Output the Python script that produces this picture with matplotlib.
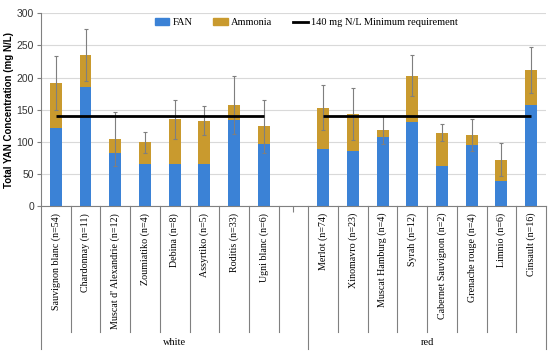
import numpy as np
import matplotlib
matplotlib.use("Agg")
import matplotlib.pyplot as plt
from matplotlib.patches import Patch
from matplotlib.lines import Line2D

# cultivars, white group first, one empty slot, then red
white = ["Sauvignon blanc (n=54)", "Chardonnay (n=11)", "Muscat d' Alexandrie (n=12)",
         "Zoumiatiko (n=4)", "Debina (n=8)", "Assyrtiko (n=5)", "Roditis (n=33)", "Ugni blanc (n=6)"]
red = ["Merlot (n=74)", "Xinomavro (n=23)", "Muscat Hamburg (n=4)", "Syrah (n=12)",
       "Cabernet Sauvignon (n=2)", "Grenache rouge (n=4)", "Limnio (n=6)", "Cinsault (n=16)"]
groups = ["white", "red"]

fan_white = [121, 186, 82, 65, 65, 65, 134, 96]
tot_white = [191, 235, 104, 99, 135, 133, 157, 124]
err_white = [42, 41, 42, 16, 30, 22, 45, 41]
fan_red = [89, 86, 108, 131, 62, 95, 39, 157]
tot_red = [153, 143, 118, 203, 114, 110, 72, 212]
err_red = [35, 41, 22, 32, 13, 25, 26, 36]
min_req = 140

labels = white + [""] + red
fan = np.array(fan_white + [np.nan] + fan_red, dtype=float)
tot = np.array(tot_white + [np.nan] + tot_red, dtype=float)
err = np.array(err_white + [np.nan] + err_red, dtype=float)
amm = tot - fan
x = np.arange(len(labels))

c_fan = "#3B82D6"
c_amm = "#C99A2E"
serif = "Liberation Serif"

fig = plt.figure(figsize=(5.5, 3.58), dpi=100)
ax = fig.add_axes([0.0745, 0.4246, 0.9182, 0.5382])

ax.bar(x, fan, width=0.4, color=c_fan, zorder=2)
ax.bar(x, amm, bottom=fan, width=0.4, color=c_amm, zorder=2)
ax.errorbar(x, tot, yerr=err, fmt="none", ecolor="#7f7f7f", elinewidth=0.8,
            capsize=1.5, capthick=0.8, zorder=3)
ax.hlines(min_req, 0, len(white) - 1, color="black", lw=2, zorder=4)
ax.hlines(min_req, len(white) + 1, len(labels) - 1, color="black", lw=2, zorder=4)

ax.set_xlim(-0.5, len(labels) - 0.5)
ax.set_ylim(0, 300)
ax.set_yticks(np.arange(0, 301, 50))
ax.yaxis.grid(True, color="#d9d9d9", lw=0.8, zorder=0)
ax.set_axisbelow(True)
for s in ["top", "right"]:
    ax.spines[s].set_visible(False)
ax.spines["left"].set_color("#808080")
ax.spines["bottom"].set_color("#808080")
ax.spines["left"].set_linewidth(0.8)
ax.spines["bottom"].set_linewidth(0.8)
ax.tick_params(axis="y", length=3, color="#808080", labelsize=7.5, labelcolor="#333333", pad=2)
ax.set_xticks([len(white)])
ax.set_xticklabels([""])
ax.tick_params(axis="x", length=4, color="#808080")
for t in ax.get_yticklabels():
    t.set_fontfamily("Liberation Sans")
ax.set_ylabel("Total YAN Concentration (mg N/L)", fontsize=7, fontweight="bold",
              fontfamily="Liberation Sans", labelpad=2)

# category labels and separators below the axis
tr = ax.get_xaxis_transform()
for xi, lab in zip(x, labels):
    if lab:
        ax.text(xi, -0.035, lab, rotation=90, ha="center", va="top", fontsize=7.2,
                fontfamily=serif, transform=tr)
inner_end, group_end = -0.654, -0.742
group_edges = [-0.5, len(white) + 0.5, len(labels) - 0.5]
for b in np.arange(-0.5, len(labels), 1.0):
    if b in group_edges:
        continue
    ax.plot([b, b], [0, inner_end], color="#808080", lw=0.8, transform=tr, clip_on=False)
for b in group_edges:
    ax.plot([b, b], [0, group_end], color="#808080", lw=0.8, transform=tr, clip_on=False)
for g, (a, b) in zip(groups, [(group_edges[0], group_edges[1]), (group_edges[1], group_edges[2])]):
    ax.text((a + b) / 2, -0.71, g, ha="center", va="center", fontsize=7.5,
            fontfamily=serif, transform=tr)

handles = [Patch(color=c_fan, label="FAN"), Patch(color=c_amm, label="Ammonia"),
           Line2D([], [], color="black", lw=2, label="140 mg N/L Minimum requirement")]
ax.legend(handles=handles, ncol=3, loc="center", bbox_to_anchor=(0.525, 0.95), frameon=False,
          prop={"family": serif, "size": 7.5}, handlelength=1.4, handleheight=0.6,
          handletextpad=0.3, columnspacing=2.0)

fig.savefig("out.png", dpi=100)
